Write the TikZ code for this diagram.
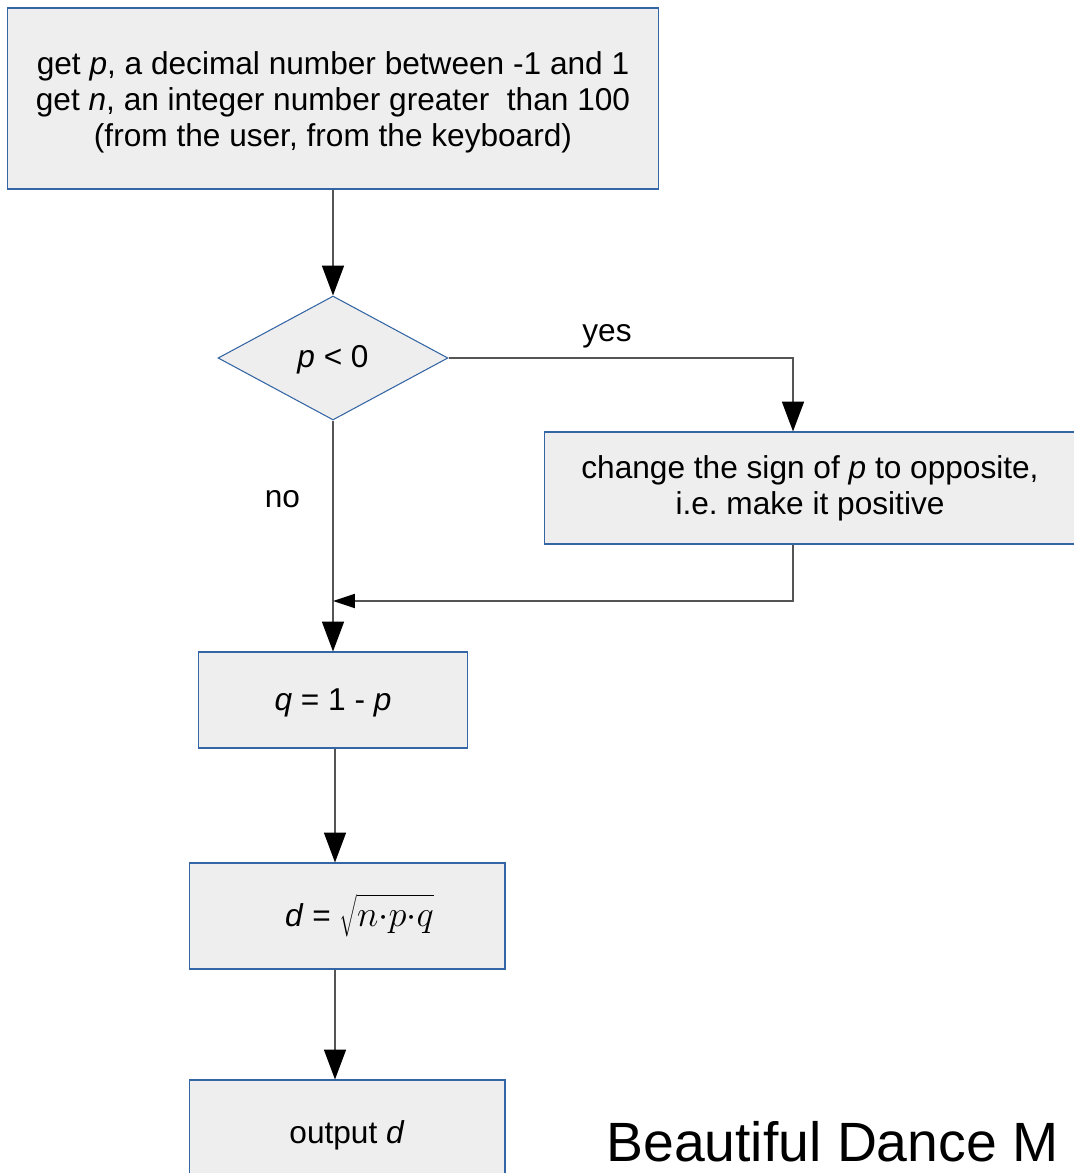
\documentclass[tikz,border=0pt]{standalone}
\usepackage{fontspec}
\setmainfont{Liberation Sans}
\usetikzlibrary{shapes.geometric,arrows.meta}
\definecolor{boxfill}{HTML}{EEEEEE}
\definecolor{boxline}{HTML}{3465A4}
\definecolor{flowline}{HTML}{555555}
\frenchspacing

\begin{document}
\begin{tikzpicture}[x=0.02cm,y=-0.02cm,
  txt/.style={font=\fontsize{18}{20.4}\selectfont},
  box/.style={txt,draw=boxline,fill=boxfill,line width=0.6pt,align=center,inner sep=0pt},
  decision/.style={box,diamond,minimum width=4.6cm,minimum height=2.48cm},
  flow/.style={draw=flowline,line width=0.9pt,-{Triangle[length=17pt,width=12.5pt,fill=black,color=black]}},
  back/.style={draw=flowline,line width=0.9pt,-{Triangle[length=12.5pt,width=8pt,fill=black,color=black]}}]
\useasboundingbox (0,0) rectangle (1073,1173);

% Input
\node[box,minimum width=13.04cm,minimum height=3.62cm] (input) at (333,98.5) {
  \rule{0pt}{17.5pt}get \emph{p}, a decimal number between -1 and 1\\
  get \emph{n}, an integer number greater\ \ than 100\\
  (from the user, from the keyboard)};

% Sign test
\node[decision] (test) at (333,358) {\rule{0pt}{15pt}\emph{p} < 0};
\node[box,minimum width=10.64cm,minimum height=2.24cm] (sign) at (810,488) {
  change the sign of \emph{p} to opposite,\\
  i.e. make it positive};
\coordinate (merge) at (333,601);

% Calculation
\node[box,minimum width=5.38cm,minimum height=1.92cm] (q) at (333,700) {\rule{0pt}{16pt}\emph{q} = 1 - \emph{p}};
\node[box,minimum width=6.32cm,minimum height=2.12cm] (d) at (347,916) {
  \hspace*{0.5cm}\emph{d} = {\fontsize{22}{22}\selectfont$\sqrt{\mathstrut n{\cdot}p{\cdot}q}$}};

% Output
\node[box,minimum width=6.32cm,minimum height=2.2cm] (out) at (347,1135) {output \emph{d}};

% Arrows
\draw[flow] (input) -- (test);
\draw[flow] (test.east) -| ([xshift=-0.34cm]sign.north) node[txt,pos=0.23,above=2pt] {yes};
\draw[flow] (test) -- (q) node[txt,pos=0.34,left=15pt] {no};
\draw[back] ([xshift=-0.34cm]sign.south) |- (merge);
\draw[flow] (q.south -| 335,0) -- (d.north -| 335,0);
\draw[flow] (d.south -| 335,0) -- (out.north -| 335,0);

% Handwriting
\node[anchor=west,inner sep=0pt,font=\fontsize{31.5}{32}\selectfont] (sig) at (606,1142) {Beautiful Dance M};

\end{tikzpicture}
\end{document}
